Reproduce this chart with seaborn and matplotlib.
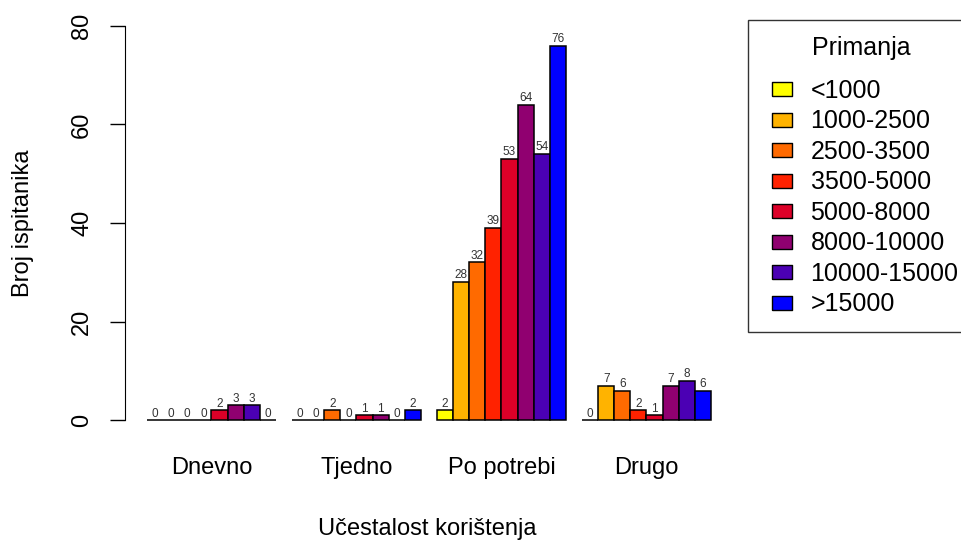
import pandas as pd
import matplotlib
matplotlib.use('Agg')
import matplotlib.pyplot as plt
from matplotlib.lines import Line2D
import seaborn as sns
import numpy as np

frequency = ['Dnevno', 'Tjedno', 'Po potrebi', 'Drugo']
income = ['<1000', '1000-2500', '2500-3500', '3500-5000', '5000-8000',
          '8000-10000', '10000-15000', '>15000']
dnevno = [0, 0, 0, 0, 2, 3, 3, 0]
tjedno = [0, 0, 2, 0, 1, 1, 0, 2]
po_potrebi = [2, 28, 32, 39, 53, 64, 54, 76]
drugo = [0, 7, 6, 2, 1, 7, 8, 6]
colors = ['#FFFF00', '#FFB300', '#FF6A00', '#FF2200', '#DC0028',
          '#900070', '#4B00B4', '#0000FF']

rows = []
for freq, vals in zip(frequency, [dnevno, tjedno, po_potrebi, drugo]):
    for inc, v in zip(income, vals):
        rows.append({'freq': freq, 'income': inc, 'count': v})
df = pd.DataFrame(rows)

sns.set_style('white')
plt.rcParams['font.family'] = ['Liberation Sans', 'DejaVu Sans']
plt.rcParams.update({'text.color': 'black', 'axes.labelcolor': 'black',
                     'xtick.color': 'black', 'ytick.color': 'black'})

fig = plt.figure(figsize=(9.62, 5.41), dpi=100)
ax = fig.add_axes([125 / 962, 1 - 436 / 541, 605 / 962, 426 / 541])

sns.barplot(data=df, x='freq', y='count', hue='income', order=frequency,
            hue_order=income, palette=colors, saturation=1, width=8 / 9, gap=0,
            edgecolor='black', linewidth=1.1, ax=ax, legend=False)

for cont in ax.containers:
    ax.bar_label(cont, fmt='%d', fontsize=8.5, color='#333333', padding=0.5)

ax.set_xlim(-0.596, 3.576)
ax.set_ylim(-3.2, 83.2)
ax.set_yticks([0, 20, 40, 60, 80])
ax.tick_params(axis='y', labelsize=17, length=11, width=1, left=True,
               direction='out', labelrotation=90, pad=12, color='black')
for lab in ax.get_yticklabels():
    lab.set_va('center')
ax.tick_params(axis='x', labelsize=17, length=0, pad=15)
for s in ['top', 'right', 'bottom']:
    ax.spines[s].set_visible(False)
ax.spines['left'].set_bounds(0, 80)
ax.spines['left'].set_color('black')
ax.set_xlabel('Učestalost korištenja', fontsize=17, labelpad=28)
ax.set_ylabel('Broj ispitanika', fontsize=17, labelpad=27)

# R-style legend boxes: wide-ish rectangles centred in the handle slot
box = [(-1, -0.72), (1, -0.72), (1, 0.72), (-1, 0.72), (-1, -0.72)]
handles = [Line2D([], [], linestyle='none', marker=box, markersize=14,
                  markerfacecolor=c, markeredgecolor='black', markeredgewidth=1)
           for c in colors]
leg = fig.legend(handles, income, title='Primanja\n', loc='upper left',
                 bbox_to_anchor=(748 / 962, 1 - 20 / 541), frameon=True,
                 fancybox=False, edgecolor='black', fontsize=18,
                 title_fontsize=18, handlelength=1.4, handleheight=0.6,
                 labelspacing=0.26, borderpad=0.65, handletextpad=0.45,
                 borderaxespad=0)
leg.get_frame().set_linewidth(1)
leg.get_title().set_linespacing(0.36)

fig.savefig('out.png', dpi=100)
